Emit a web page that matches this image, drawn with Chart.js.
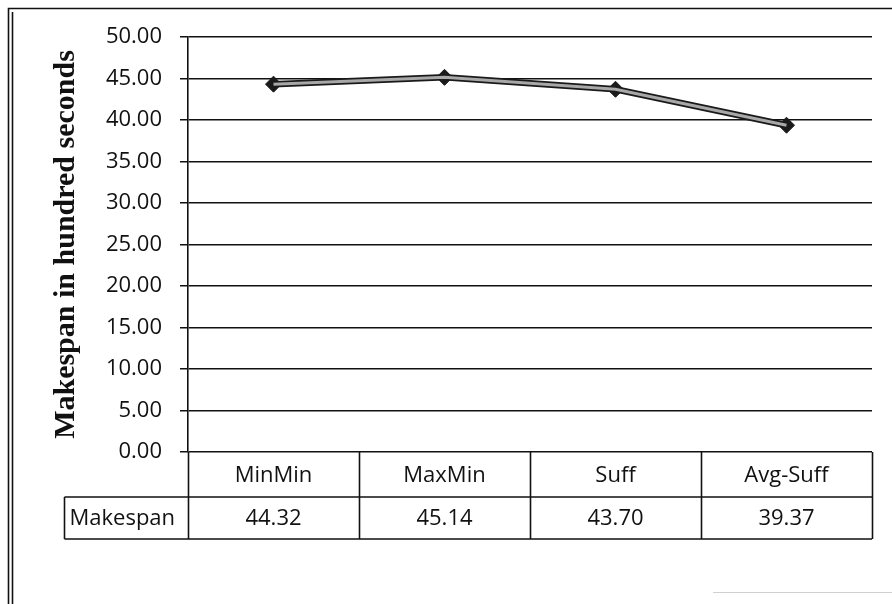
<!DOCTYPE html>
<html>
<head>
<meta charset="utf-8">
<script src="https://cdn.jsdelivr.net/npm/chart.js@4"></script>
<style>
  html, body { margin: 0; padding: 0; background: #fff; }
  #wrap { width: 892px; height: 604px; position: relative; }
</style>
</head>
<body>
<div id="wrap"><canvas id="c" width="892" height="604"></canvas></div>
<script>
const categories = ['MinMin', 'MaxMin', 'Suff', 'Avg-Suff'];
const makespan = [44.32, 45.14, 43.70, 39.37];
const seriesName = 'Makespan';
const yTitle = 'Makespan in hundred seconds';
const yMin = 0, yMax = 50, yStep = 5;

const TICK_FONT = { family: '"Open Sans", "Liberation Sans", sans-serif', size: 22 };

const framePlugin = {
  id: 'frame',
  beforeDraw(chart) {
    const ctx = chart.ctx;
    ctx.save();
    ctx.fillStyle = '#fff';
    ctx.fillRect(0, 0, chart.width, chart.height);
    ctx.strokeStyle = '#111';
    ctx.lineWidth = 1.6;
    ctx.beginPath();
    ctx.moveTo(8.5, 604); ctx.lineTo(8.5, 8.5); ctx.lineTo(892, 8.5);
    ctx.moveTo(12.5, 604); ctx.lineTo(12.5, 12);
    ctx.stroke();
    ctx.strokeStyle = '#d0d0d0';
    ctx.lineWidth = 1;
    ctx.beginPath();
    ctx.moveTo(713, 592.5); ctx.lineTo(892, 592.5);
    ctx.stroke();
    ctx.restore();
  }
};

const tablePlugin = {
  id: 'dataTable',
  afterDraw(chart) {
    const ctx = chart.ctx;
    const xs = chart.scales.x;
    const area = chart.chartArea;
    const n = categories.length;
    const half = (xs.getPixelForValue(1) - xs.getPixelForValue(0)) / 2;
    const y0 = area.bottom, y1 = y0 + 45, y2 = y1 + 42;
    const labelLeft = 64.5;
    ctx.save();
    ctx.strokeStyle = '#111';
    ctx.lineWidth = 1.6;
    ctx.beginPath();
    for (let i = 0; i <= n; i++) {
      const px = Math.round(i < n ? xs.getPixelForValue(i) - half : xs.getPixelForValue(n - 1) + half) + 0.5;
      ctx.moveTo(px, y0); ctx.lineTo(px, y2);
    }
    const right = xs.getPixelForValue(n - 1) + half;
    ctx.moveTo(labelLeft, y1); ctx.lineTo(right, y1);
    ctx.moveTo(labelLeft, y2); ctx.lineTo(right, y2);
    ctx.moveTo(labelLeft, y1); ctx.lineTo(labelLeft, y2);
    ctx.stroke();

    ctx.fillStyle = '#111';
    ctx.font = TICK_FONT.size + 'px ' + TICK_FONT.family;
    ctx.textBaseline = 'middle';
    ctx.textAlign = 'center';
    for (let i = 0; i < n; i++) {
      const cx = xs.getPixelForValue(i);
      ctx.fillText(categories[i], cx, (y0 + y1) / 2 + 1);
      ctx.fillText(makespan[i].toFixed(2), cx, (y1 + y2) / 2 + 1);
    }
    ctx.textAlign = 'left';
    ctx.fillText(seriesName, labelLeft + 5, (y1 + y2) / 2 + 1);
    ctx.restore();
  }
};

new Chart(document.getElementById('c'), {
  type: 'line',
  data: {
    labels: categories,
    datasets: [
      {
        label: seriesName + ' (inner)',
        data: makespan,
        borderColor: '#a8a8a8',
        borderWidth: 3,
        pointRadius: 0,
        fill: false,
        tension: 0,
        order: 0
      },
      {
        label: seriesName,
        data: makespan,
        borderColor: '#1a1a1a',
        borderWidth: 6.5,
        pointStyle: 'rectRot',
        pointRadius: 8,
        pointBackgroundColor: '#1a1a1a',
        pointBorderColor: '#1a1a1a',
        pointBorderWidth: 1,
        fill: false,
        tension: 0,
        order: 1
      }
    ]
  },
  options: {
    responsive: false,
    animation: false,
    devicePixelRatio: 1,
    layout: { padding: { left: 48, top: 37, right: 20, bottom: 152 } },
    plugins: {
      legend: { display: false },
      tooltip: { enabled: false },
      title: { display: false }
    },
    scales: {
      x: {
        type: 'category',
        offset: true,
        display: false,
        grid: { display: false }
      },
      y: {
        min: yMin,
        max: yMax,
        afterFit(scale) { scale.width = 140; },
        ticks: {
          stepSize: yStep,
          color: '#111',
          font: TICK_FONT,
          padding: 18,
          callback: (v) => Number(v).toFixed(2)
        },
        grid: {
          color: '#111',
          lineWidth: 1.5,
          drawTicks: true,
          tickLength: 8
        },
        border: { display: true, color: '#111', width: 1.6 },
        title: {
          display: true,
          text: yTitle,
          color: '#111',
          font: { family: '"Liberation Serif", "Times New Roman", serif', size: 30, weight: 'bold', lineHeight: 1.2 },
          padding: 0
        }
      }
    }
  },
  plugins: [framePlugin, tablePlugin]
});
</script>
</body>
</html>
